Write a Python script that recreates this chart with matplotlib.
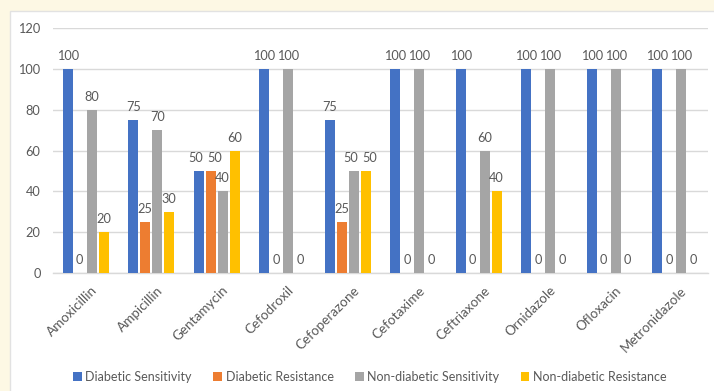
import matplotlib
matplotlib.use("Agg")
import matplotlib.pyplot as plt
import matplotlib.transforms as mtransforms
import numpy as np
from matplotlib.patches import Rectangle

drugs = ["Amoxicillin", "Ampicillin", "Gentamycin", "Cefodroxil", "Cefoperazone",
         "Cefotaxime", "Ceftriaxone", "Ornidazole", "Ofloxacin", "Metronidazole"]
diabetic_sensitivity = [100, 75, 50, 100, 75, 100, 100, 100, 100, 100]
diabetic_resistance = [0, 25, 50, 0, 25, 0, 0, 0, 0, 0]
nondiabetic_sensitivity = [80, 70, 40, 100, 50, 100, 60, 100, 100, 100]
nondiabetic_resistance = [20, 30, 60, 0, 50, 0, 40, 0, 0, 0]
series_names = ["Diabetic Sensitivity", "Diabetic Resistance",
                "Non-diabetic Sensitivity", "Non-diabetic Resistance"]
y_ticks = [0, 20, 40, 60, 80, 100, 120]

colors = ["#4472C4", "#ED7D31", "#A5A5A5", "#FFC000"]
text_color = "#595959"
plt.rcParams["font.family"] = ["Lato", "DejaVu Sans"]

fig = plt.figure(figsize=(7.14, 3.91), dpi=100)
fig.patch.set_facecolor("#FDF8E4")
# white chart panel behind the axes
panel = Rectangle((10 / 714, -0.01), 1.0, 1.01 - 11 / 391, transform=fig.transFigure,
                  facecolor="white", edgecolor="#E2E2E2", linewidth=1.0, zorder=-5)
fig.patches.append(panel)

ax = fig.add_axes([53 / 714, 1 - 273 / 391, 655 / 714, 245 / 391])
ax.set_facecolor("none")

x = np.arange(len(drugs))
step = 0.183
width = 0.148
all_series = [diabetic_sensitivity, diabetic_resistance,
              nondiabetic_sensitivity, nondiabetic_resistance]
for j, (vals, name, c) in enumerate(zip(all_series, series_names, colors)):
    pos = x + (j - 1.5) * step
    bars = ax.bar(pos, vals, width=width, color=c, label=name, zorder=3)
    for i, (b, v) in enumerate(zip(bars, vals)):
        # spread apart labels of neighbouring bars with equal non-zero heights
        dx = 0.0
        if v > 0 and j > 0 and all_series[j - 1][i] == v:
            dx = 2.5
        elif v > 0 and j < 3 and all_series[j + 1][i] == v:
            dx = -2.5
        ax.annotate(f"{v}", (b.get_x() + b.get_width() / 2, v), xytext=(dx, 5),
                    textcoords="offset points", ha="center", va="bottom",
                    fontsize=9.2, color=text_color, zorder=4)

ax.set_xlim(-0.5, len(drugs) - 0.5)
ax.set_ylim(0, 120)
ax.set_yticks(y_ticks)
ax.yaxis.grid(True, color="#D9D9D9", linewidth=1.0, zorder=0)
ax.set_axisbelow(True)
for s in ["top", "right", "left"]:
    ax.spines[s].set_visible(False)
ax.spines["bottom"].set_color("#D9D9D9")
ax.spines["bottom"].set_linewidth(1.0)
ax.tick_params(axis="both", length=0, colors=text_color, labelsize=9.2)
ax.tick_params(axis="y", pad=9)
ax.set_xticks(x)
ax.set_xticklabels(drugs, rotation=45, ha="right", rotation_mode="anchor", fontsize=9.7)
ax.tick_params(axis="x", pad=8)
shift = mtransforms.ScaledTranslation(5 / 100, 0, fig.dpi_scale_trans)
for lbl in ax.get_xticklabels():
    lbl.set_transform(lbl.get_transform() + shift)

fig.legend(loc="center", bbox_to_anchor=(0.518, 1 - 377 / 391), ncol=4, frameon=False,
           fontsize=9, handlelength=0.7, handleheight=0.7, handletextpad=0.3,
           columnspacing=1.7, labelcolor=text_color)

fig.savefig("out.png", dpi=100, facecolor=fig.get_facecolor())
